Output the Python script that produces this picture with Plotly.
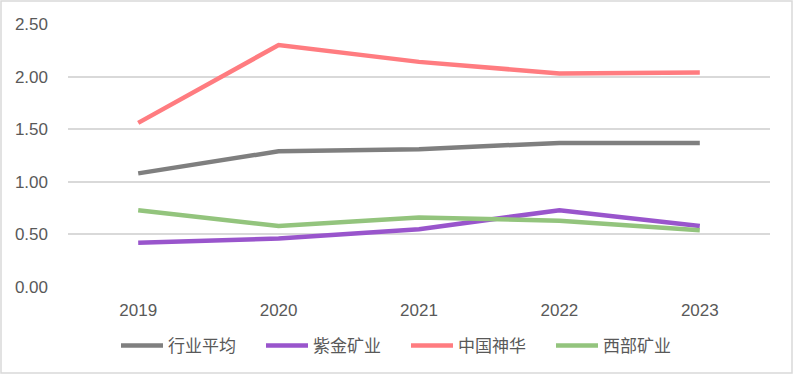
import plotly.graph_objects as go

years = ["2019", "2020", "2021", "2022", "2023"]
series_names = ["行业平均", "紫金矿业", "中国神华", "西部矿业"]
avg_vals = [1.08, 1.29, 1.31, 1.37, 1.37]
zijin_vals = [0.42, 0.46, 0.55, 0.73, 0.58]
shenhua_vals = [1.56, 2.30, 2.14, 2.03, 2.04]
xibu_vals = [0.73, 0.58, 0.66, 0.63, 0.54]
y_ticks = [0, 0.5, 1.0, 1.5, 2.0, 2.5]

colors = ["#7f7f7f", "#9955cc", "#ff7c80", "#93c47d"]
all_vals = [avg_vals, zijin_vals, shenhua_vals, xibu_vals]

fig = go.Figure()
for name, vals, c in zip(series_names, all_vals, colors):
    fig.add_trace(go.Scatter(x=years, y=vals, name=name, mode="lines",
                             line=dict(color=c, width=4.5)))

L, R, T, B = 68, 24, 24, 89
W, H = 794, 376
pw, ph = W - L - R, H - T - B

fig.update_layout(
    width=W, height=H,
    margin=dict(l=L, r=R, t=T, b=B, autoexpand=False),
    paper_bgcolor="white", plot_bgcolor="white",
    font=dict(family="Liberation Sans, Noto Sans CJK SC", color="#595959", size=17),
    showlegend=True,
    legend=dict(orientation="h", x=(116 - L) / pw, xanchor="left", y=(287 - 346) / ph,
                yanchor="middle", font=dict(family="Noto Sans CJK SC", size=17, color="#595959"),
                itemwidth=42, entrywidth=88, entrywidthmode="pixels",
                tracegroupgap=0, traceorder="normal", bgcolor="rgba(0,0,0,0)"),
    xaxis=dict(type="category", showgrid=False, zeroline=False, showline=False,
               ticks="", ticklabelstandoff=11,
               tickfont=dict(size=17, color="#595959"), range=[-0.5, 4.5]),
    yaxis=dict(range=[0, 2.5], tickvals=y_ticks, tickformat=".2f",
               showgrid=True, gridcolor="#d9d9d9", gridwidth=1.5, zeroline=False,
               showline=False, ticks="", ticklabelstandoff=19,
               tickfont=dict(size=17, color="#595959")),
)

fig.add_shape(type="rect", xref="paper", yref="paper",
              x0=(1 - L) / pw, x1=(W - 2 - L) / pw,
              y0=(287 - 373) / ph, y1=(287 - 1) / ph,
              line=dict(color="#d9d9d9", width=1.5), fillcolor="rgba(0,0,0,0)", layer="below")

fig.write_html("out.html", config={"displayModeBar": False},
               post_script="document.body.style.margin='0';document.body.style.overflow='hidden';")
